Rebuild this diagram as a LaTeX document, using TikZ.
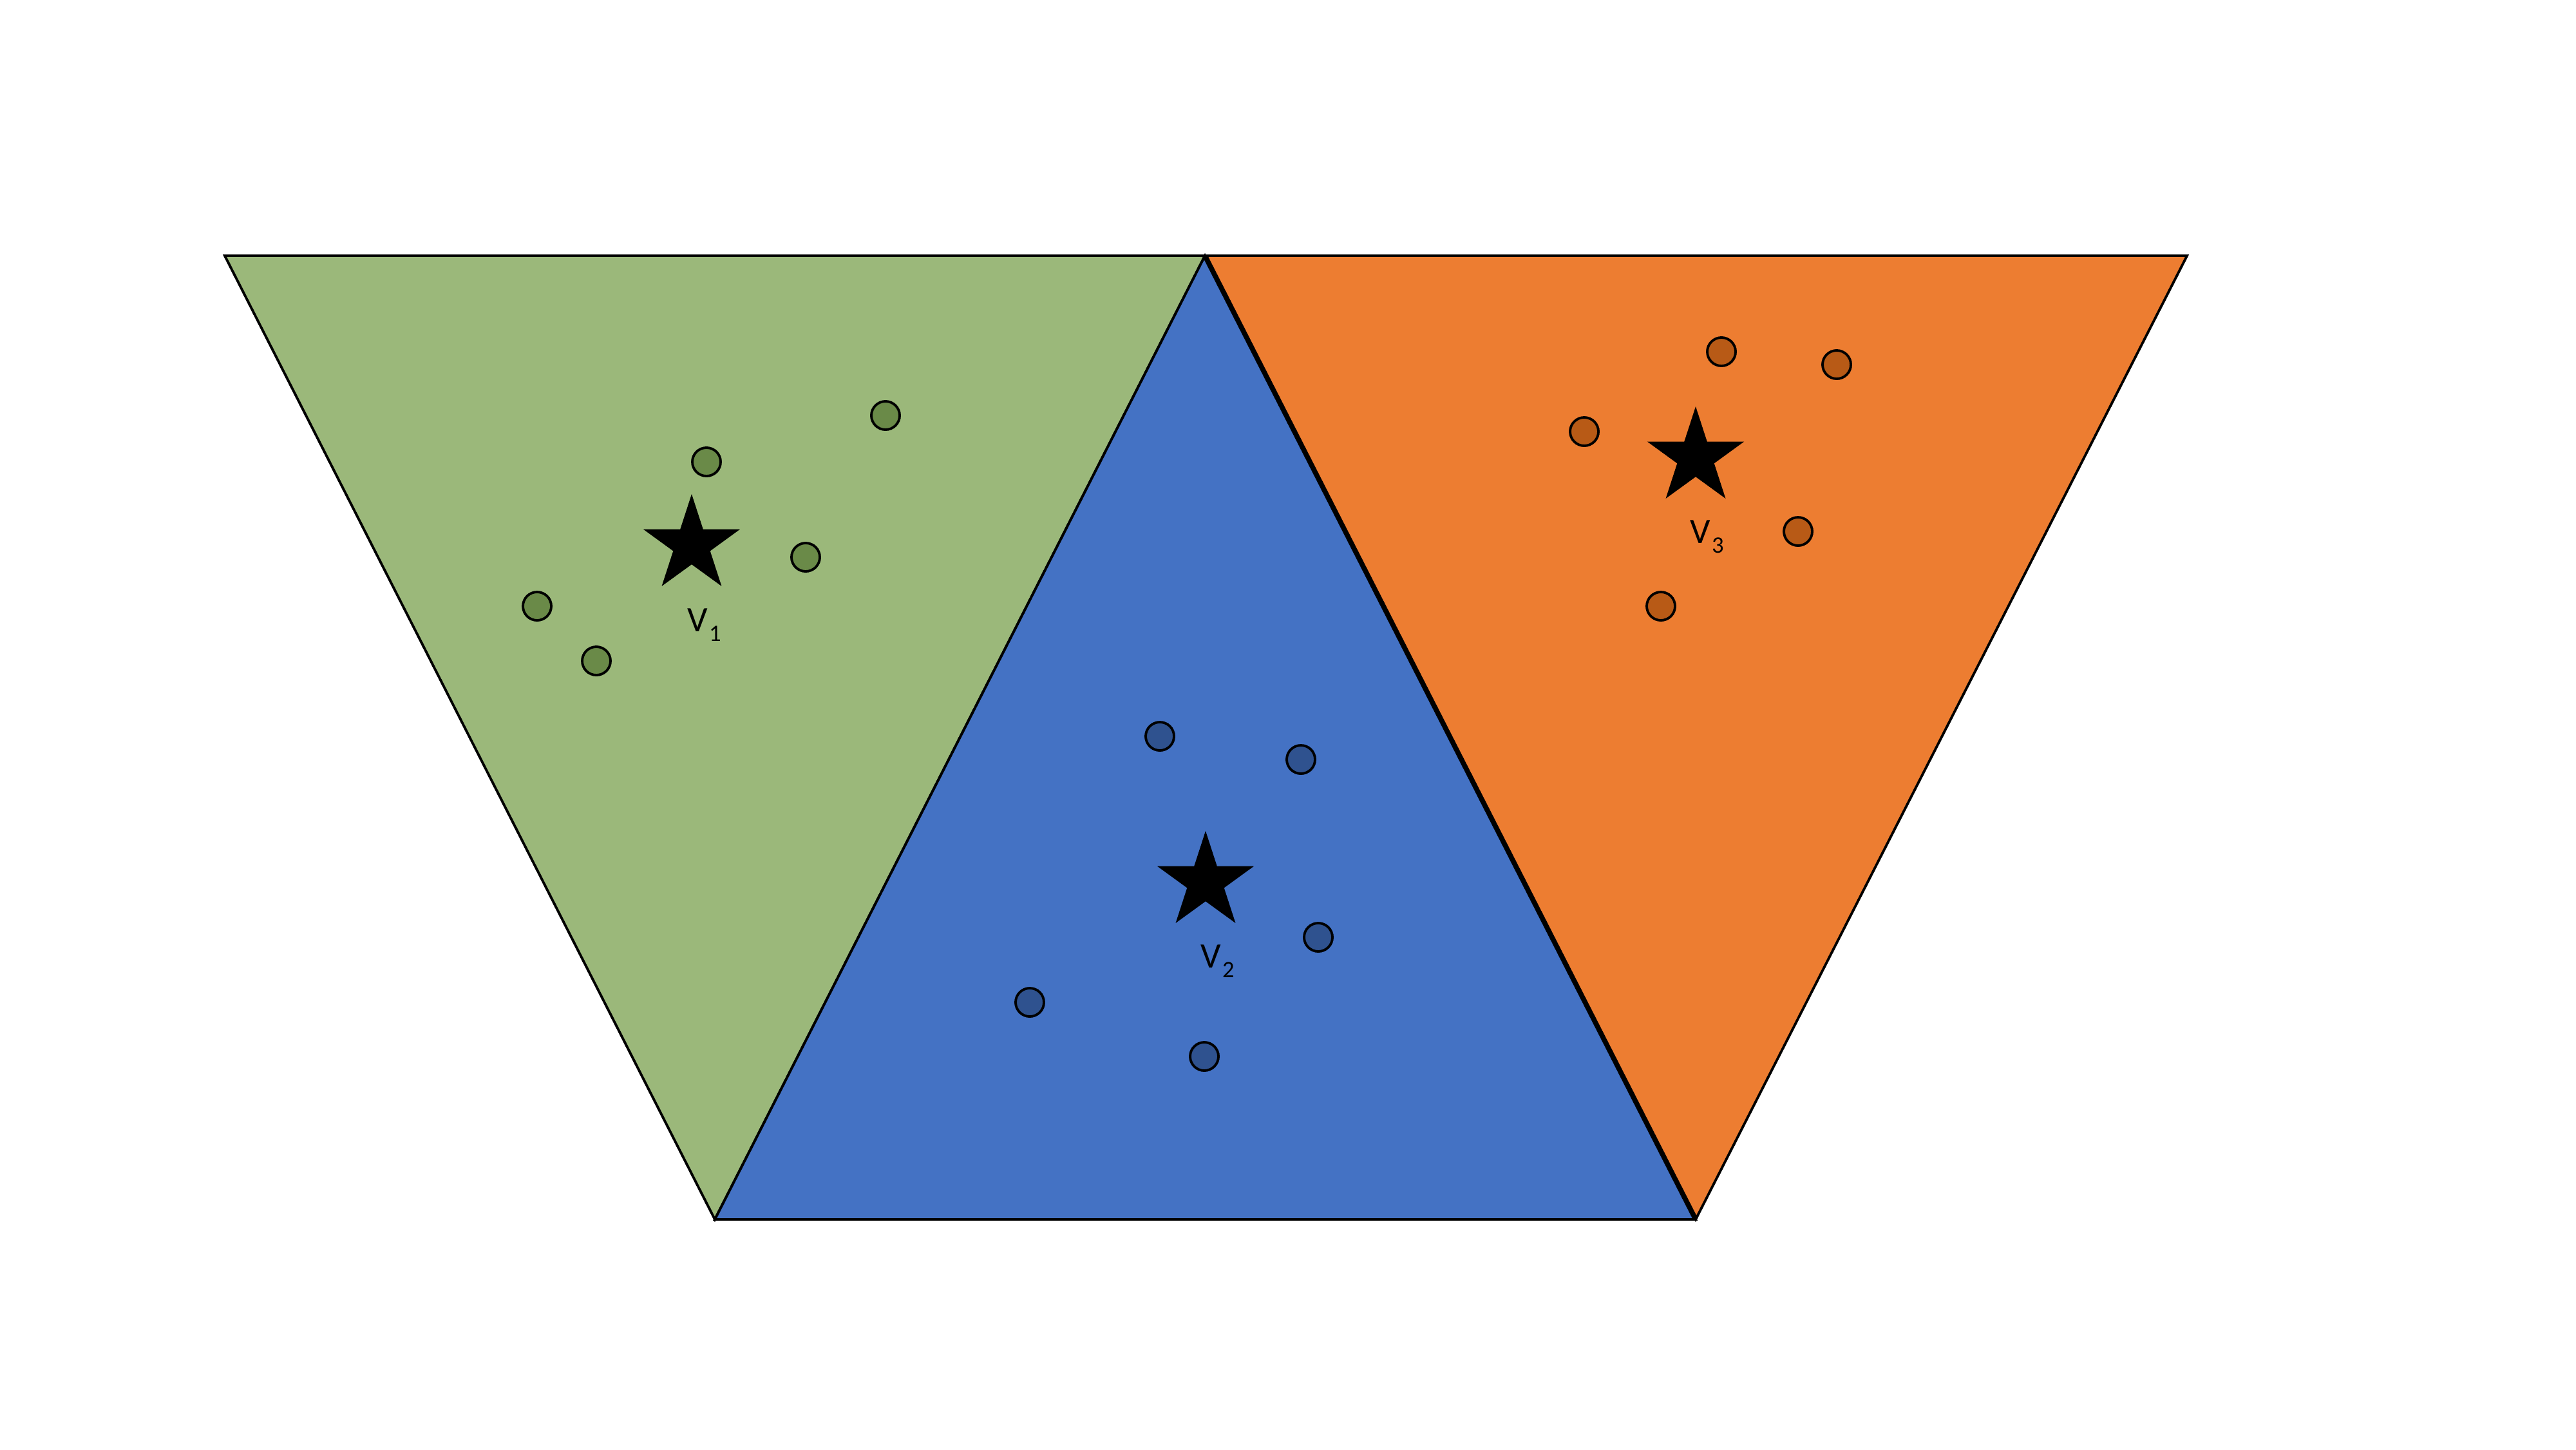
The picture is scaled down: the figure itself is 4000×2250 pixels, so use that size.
\documentclass[tikz,border=0pt]{standalone}
\usepackage{fontspec}
\setmainfont{Carlito}
\usetikzlibrary{shapes.geometric}
\definecolor{greenF}{HTML}{9BB87A}
\definecolor{greenD}{HTML}{6A8A48}
\definecolor{blueF}{HTML}{4472C4}
\definecolor{blueD}{HTML}{2F528F}
\definecolor{orangeF}{HTML}{ED7D31}
\definecolor{orangeD}{HTML}{B85A16}
\tikzset{
  tri/.style={draw=black,line width=1.1pt,line join=miter},
  dot/.style={circle,draw=black,line width=1.1pt,minimum size=0.44cm,inner sep=0pt},
  centroid/.style={star,star points=5,star point ratio=2.618,fill=black,draw=none,minimum size=1.58cm,inner sep=0pt},
  vlab/.style={anchor=base west,inner sep=0pt,font=\fontsize{15.8}{19}\selectfont}
}
\newcommand{\vsub}[1]{V\kern0.5pt\raisebox{-4.3pt}{\fontsize{10.4}{12}\selectfont #1}}
\begin{document}
\begin{tikzpicture}[x=0.01cm,y=-0.01cm]
\useasboundingbox (0,0) rectangle (4000,2250);
% vertices
\coordinate (TL) at (349,397);
\coordinate (TM) at (1871,397);
\coordinate (TR) at (3396,397);
\coordinate (BL) at (1110,1893);
\coordinate (BR) at (2633,1893);
% triangles
\filldraw[tri,fill=greenF] (TL) -- (TM) -- (BL) -- cycle;
\filldraw[tri,fill=orangeF] (TM) -- (TR) -- (BR) -- cycle;
\filldraw[tri,fill=blueF] (TM) -- (BR) -- (BL) -- cycle;
\draw[line width=2.2pt] (TM) -- (BR);
% green cluster
\node[dot,fill=greenD] (g1) at (1097,717) {};
\node[dot,fill=greenD] (g2) at (1375,645) {};
\node[dot,fill=greenD] (g3) at (1251,865) {};
\node[dot,fill=greenD] (g4) at (834,941) {};
\node[dot,fill=greenD] (g5) at (926,1026) {};
\node[centroid] (s1) at (1074,846) {};
\node[vlab] (v1) at (1067,980) {\vsub{1}};
% blue cluster
\node[dot,fill=blueD] (b1) at (1801,1143) {};
\node[dot,fill=blueD] (b2) at (2020,1179) {};
\node[dot,fill=blueD] (b3) at (2047,1455) {};
\node[dot,fill=blueD] (b4) at (1599,1556) {};
\node[dot,fill=blueD] (b5) at (1870,1640) {};
\node[centroid] (s2) at (1872,1369) {};
\node[vlab] (v2) at (1864,1502) {\vsub{2}};
% orange cluster
\node[dot,fill=orangeD] (o1) at (2673,546) {};
\node[dot,fill=orangeD] (o2) at (2852,566) {};
\node[dot,fill=orangeD] (o3) at (2460,670) {};
\node[dot,fill=orangeD] (o4) at (2792,825) {};
\node[dot,fill=orangeD] (o5) at (2579,941) {};
\node[centroid] (s3) at (2633,710) {};
\node[vlab] (v3) at (2624,843) {\vsub{3}};
\end{tikzpicture}
\end{document}
